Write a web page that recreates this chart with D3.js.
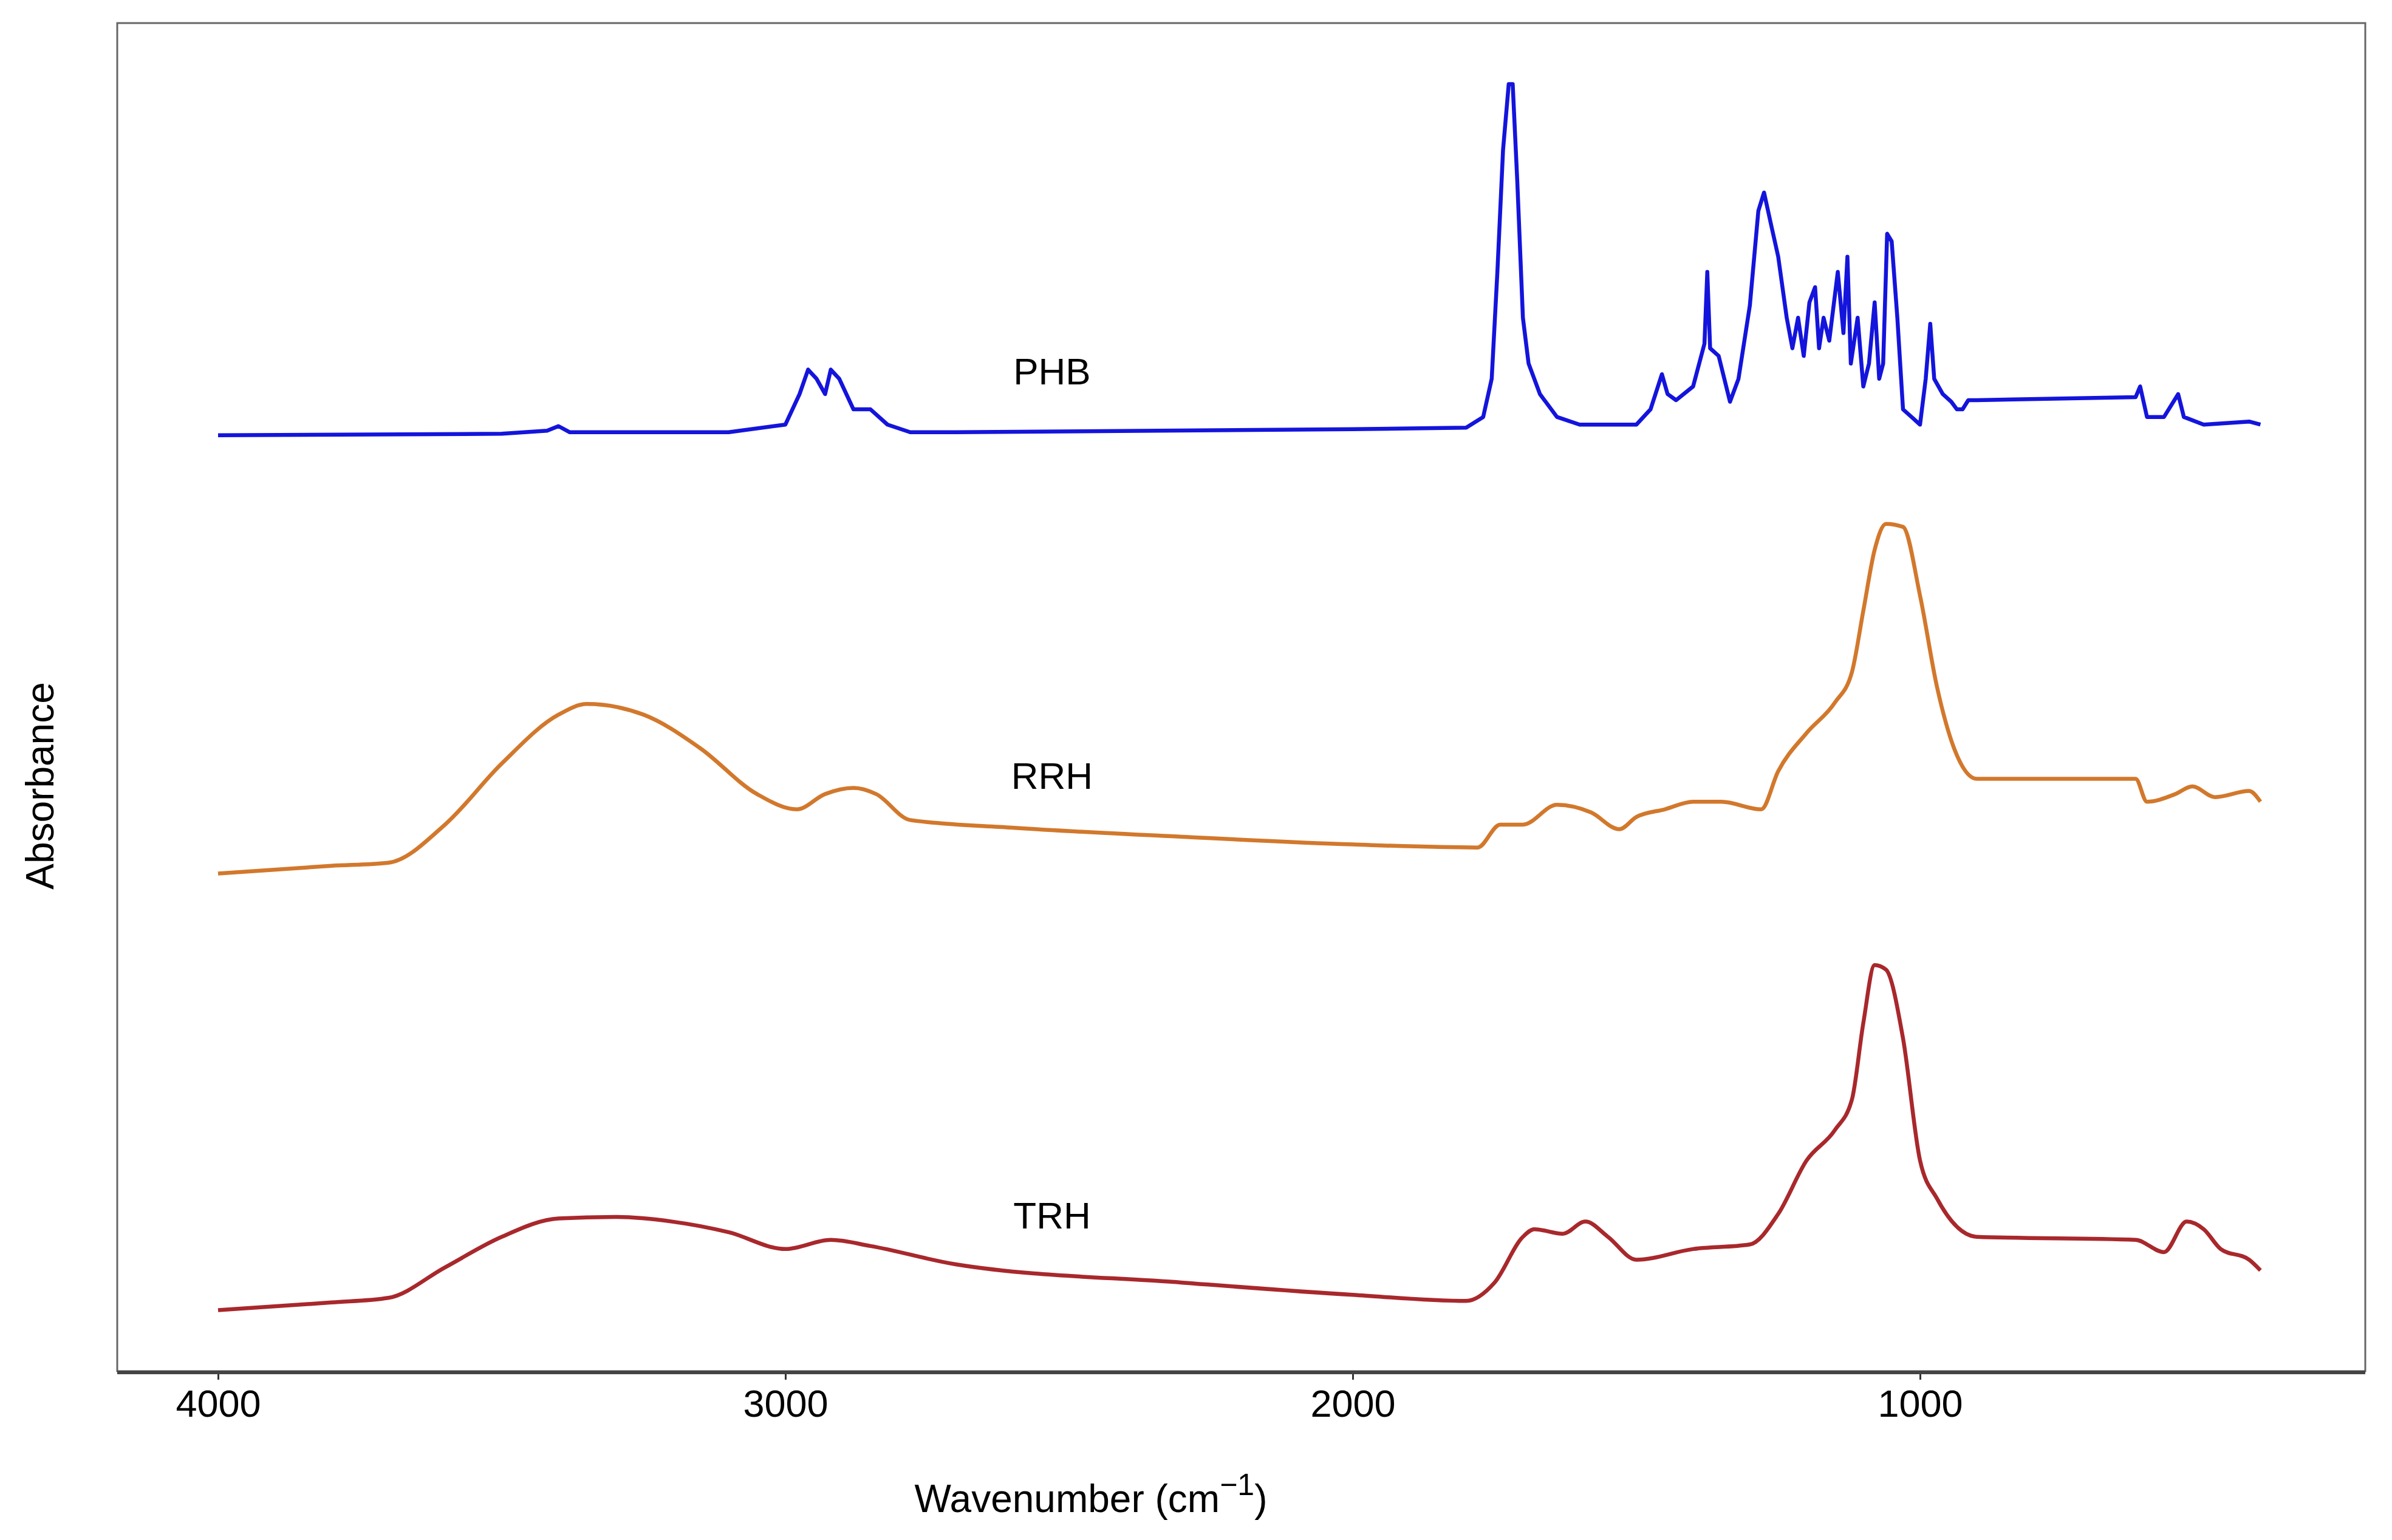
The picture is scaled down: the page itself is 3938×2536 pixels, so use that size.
<!DOCTYPE html>
<html><head><meta charset="utf-8">
<script src="https://cdn.jsdelivr.net/npm/d3@7"></script>
<style>body{margin:0;background:#fff}svg{display:block}</style></head>
<body><svg id="c" width="3938" height="2536"></svg>
<script>
const xTicks=[4000,3000,2000,1000];
const seriesNames=["PHB","RRH","TRH"];
const seriesColors=["#1414dc","#d2782c","#a8282c"];
const labelPos=[[2530,6.53],[2530,3.88],[2530,1.0]];
const phb=[[4000,6.13],[3500,6.14],[3420,6.16],[3400,6.19],[3380,6.15],[3100,6.15],[3000,6.2],[2975,6.4],[2960,6.56],[2945,6.5],[2930,6.4],[2920,6.56],[2905,6.5],[2880,6.3],[2850,6.3],[2820,6.2],[2780,6.15],[2700,6.15],[2000,6.17],[1800,6.18],[1770,6.25],[1755,6.5],[1745,7.2],[1735,8.0],[1725,8.43],[1718,8.43],[1710,7.8],[1700,6.9],[1690,6.6],[1670,6.4],[1640,6.25],[1600,6.2],[1500,6.2],[1475,6.3],[1455,6.53],[1445,6.4],[1430,6.36],[1400,6.45],[1380,6.73],[1375,7.2],[1370,6.7],[1355,6.65],[1335,6.35],[1320,6.5],[1300,6.98],[1285,7.6],[1275,7.72],[1262,7.5],[1250,7.3],[1235,6.9],[1225,6.7],[1215,6.9],[1205,6.65],[1195,7.0],[1185,7.1],[1178,6.7],[1170,6.9],[1160,6.75],[1145,7.2],[1135,6.8],[1128,7.3],[1122,6.6],[1110,6.9],[1100,6.45],[1090,6.6],[1080,7.0],[1072,6.5],[1065,6.6],[1058,7.45],[1050,7.4],[1040,6.9],[1030,6.3],[1015,6.25],[1000,6.2],[990,6.5],[982,6.86],[975,6.5],[960,6.4],[945,6.35],[935,6.3],[925,6.3],[915,6.36],[900,6.36],[620,6.38],[612,6.45],[600,6.25],[570,6.25],[545,6.4],[535,6.25],[500,6.2],[420,6.22],[400,6.2]];
const rrh=[[4000,3.26],[3800,3.31],[3700,3.33],[3600,3.58],[3500,3.98],[3400,4.30],[3350,4.37],[3250,4.30],[3150,4.08],[3050,3.78],[2980,3.68],[2930,3.78],[2880,3.82],[2840,3.78],[2780,3.61],[2600,3.56],[2300,3.50],[2000,3.45],[1780,3.43],[1740,3.58],[1700,3.58],[1640,3.71],[1580,3.66],[1530,3.55],[1500,3.63],[1450,3.68],[1400,3.73],[1350,3.73],[1280,3.68],[1250,3.93],[1200,4.18],[1150,4.38],[1120,4.58],[1100,4.98],[1080,5.38],[1060,5.55],[1030,5.53],[1000,5.08],[970,4.48],[940,4.08],[900,3.88],[620,3.88],[600,3.73],[550,3.78],[520,3.83],[480,3.76],[420,3.80],[400,3.73]];
const trh=[[4000,0.40],[3800,0.45],[3700,0.48],[3600,0.68],[3500,0.88],[3400,1.00],[3300,1.01],[3200,0.98],[3100,0.91],[3000,0.80],[2920,0.86],[2850,0.82],[2700,0.70],[2300,0.58],[2000,0.50],[1800,0.46],[1750,0.58],[1700,0.88],[1680,0.93],[1630,0.90],[1590,0.98],[1550,0.88],[1500,0.73],[1400,0.80],[1300,0.83],[1250,1.03],[1200,1.38],[1150,1.58],[1120,1.78],[1100,2.28],[1080,2.66],[1060,2.63],[1030,2.18],[1000,1.38],[970,1.13],[900,0.88],[620,0.86],[570,0.78],[530,0.98],[500,0.93],[470,0.80],[420,0.73],[400,0.66]];
const data=[phb,rrh,trh];

const svg=d3.select("#c");
const L=193,R=3894,T=38,B=2258;
const x=d3.scaleLinear().domain([4000,1000]).range([359,3161]);
const y=d3.scaleLinear().domain([0,8.83]).range([B,T]);
svg.append("rect").attr("x",L).attr("y",T).attr("width",R-L).attr("height",B-T).attr("fill","none").attr("stroke","#666").attr("stroke-width",3);
const ax=svg.append("g").attr("transform",`translate(0,${B})`).call(d3.axisBottom(x).tickValues(xTicks).tickSize(14).tickPadding(16).tickFormat(d3.format("d")));
ax.select(".domain").remove();
ax.selectAll("line").attr("stroke","#333").attr("stroke-width",3);
ax.selectAll("text").attr("font-family","Liberation Sans, Arial").attr("font-size",63).attr("fill","#000");
svg.append("line").attr("x1",L).attr("x2",R).attr("y1",B+2).attr("y2",B+2).attr("stroke","#444").attr("stroke-width",6);
data.forEach((s,i)=>{
  const line=d3.line().x(d=>x(d[0])).y(d=>y(d[1])).curve(i===0?d3.curveLinear:d3.curveMonotoneX);
  const pts=s.slice().sort((a,b)=>a[0]-b[0]);
  svg.append("path").datum(pts).attr("d",line).attr("fill","none").attr("stroke",seriesColors[i]).attr("stroke-width",6.5).attr("stroke-linejoin","round");
  svg.append("text").attr("x",x(labelPos[i][0])).attr("y",y(labelPos[i][1])).attr("text-anchor","middle").attr("dominant-baseline","middle").attr("font-family","Liberation Sans, Arial").attr("font-size",62).text(seriesNames[i]);
});
const xl=svg.append("text").attr("x",1796).attr("y",2490).attr("text-anchor","middle").attr("font-family","Liberation Sans, Arial").attr("font-size",64);
xl.append("tspan").text("Wavenumber (cm");
xl.append("tspan").attr("dy",-28).attr("font-size",50).text("−1");
xl.append("tspan").attr("dy",28).text(")");
svg.append("text").attr("transform","translate(88,1294) rotate(-90)").attr("text-anchor","middle").attr("font-family","Liberation Sans, Arial").attr("font-size",64).text("Absorbance");
</script></body></html>
